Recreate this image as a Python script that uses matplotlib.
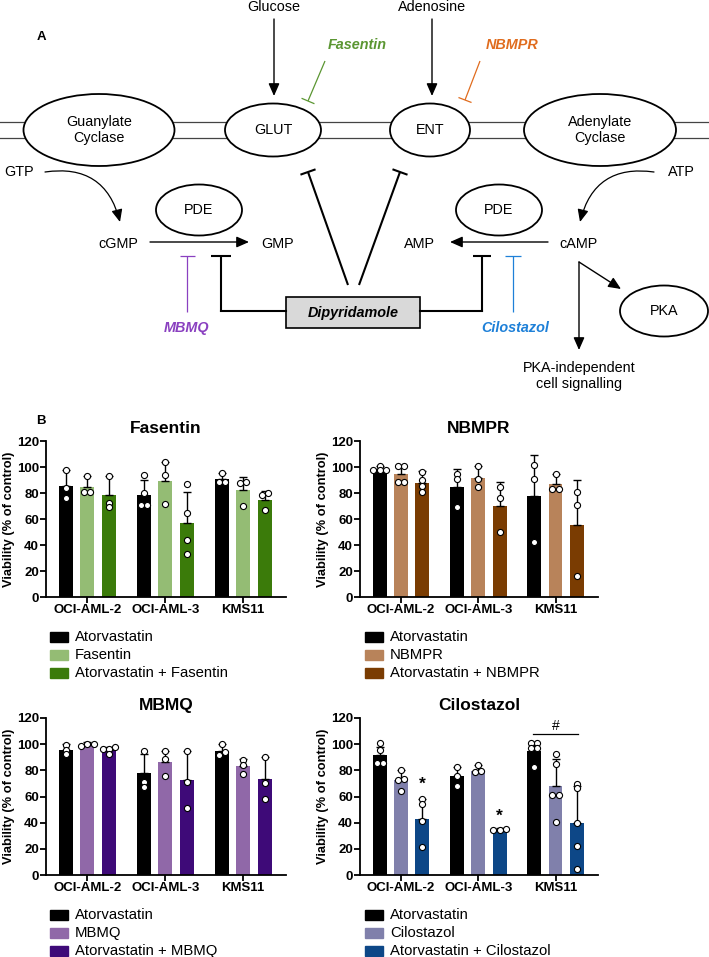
import numpy as np
import matplotlib
matplotlib.use("Agg")
import matplotlib.pyplot as plt
from matplotlib.patches import Ellipse, Rectangle

plt.rcParams['font.family'] = ['Liberation Sans', 'DejaVu Sans']

W, H = 709, 957

cell_lines = ["OCI-AML-2", "OCI-AML-3", "KMS11"]

# ---- panel B data: rows = Atorvastatin, drug, combination; columns = cell lines
fas_labels = ["Atorvastatin", "Fasentin", "Atorvastatin + Fasentin"]
fas_means = [[85.3, 78.4, 90.5], [84.3, 89.0, 82.0], [78.4, 56.6, 74.8]]
fas_sd = [[12.4, 11.3, 5.1], [8.7, 15.0, 10.0], [14.6, 23.9, 6.9]]
fas_points = [
    [[97.7, 83.5, 76.0], [94.0, 79.7, 70.4, 70.4], [95.6, 88.4, 88.4]],
    [[93.0, 80.5, 80.5], [104.0, 94.0, 71.5], [88.4, 87.4, 70.0]],
    [[93.0, 72.5, 69.0], [86.6, 64.3, 44.2, 33.0], [80.0, 78.7, 67.0]],
]

nbm_labels = ["Atorvastatin", "NBMPR", "Atorvastatin + NBMPR"]
nbm_means = [[98.2, 84.3, 77.6], [94.3, 91.3, 86.6], [88.0, 70.0, 55.3]]
nbm_sd = [[2.6, 13.9, 31.9], [7.2, 9.5, 8.3], [9.0, 18.2, 34.7]]
nbm_points = [
    [[100.8, 97.7, 97.7, 97.7], [94.6, 90.7, 69.2], [101.5, 90.5, 42.0]],
    [[100.8, 100.8, 88.2, 88.2], [100.8, 90.7, 84.6], [94.9, 83.3, 83.3]],
    [[96.4, 90.0, 85.6, 80.5], [84.6, 76.3, 50.0], [80.5, 70.4, 16.2]],
]

mbm_labels = ["Atorvastatin", "MBMQ", "Atorvastatin + MBMQ"]
mbm_means = [[95.5, 77.6, 95.0], [99.6, 86.0, 83.2], [95.2, 72.5, 73.0]]
mbm_sd = [[4.5, 15.1, 5.3], [1.8, 9.0, 5.6], [2.6, 22.0, 17.0]]
mbm_points = [
    [[99.6, 95.7, 92.7], [94.5, 71.0, 67.0], [100.3, 93.7, 91.6]],
    [[98.3, 100.0, 100.3], [95.0, 88.8, 75.3], [88.0, 84.2, 77.0]],
    [[97.8, 96.5, 96.5, 92.4], [94.5, 71.0, 51.3], [90.0, 70.2, 58.2]],
]

cil_labels = ["Atorvastatin", "Cilostazol", "Atorvastatin + Cilostazol"]
cil_means = [[91.4, 75.3, 95.0], [72.5, 79.7, 67.9], [42.6, 34.7, 40.1]]
cil_sd = [[6.6, 7.4, 7.0], [7.7, 4.0, 20.7], [15.4, 1.3, 28.1]]
cil_points = [
    [[100.6, 95.7, 85.3, 85.3], [82.7, 75.8, 68.4], [101.0, 100.6, 97.0, 97.0, 82.7]],
    [[80.2, 73.5, 72.5, 64.3], [83.7, 79.7, 79.1], [92.4, 84.8, 61.3, 60.8, 40.3]],
    [[58.0, 54.0, 41.4, 21.2], [34.7, 35.2, 34.2], [69.4, 66.4, 39.6, 22.2, 4.3]],
]
cil_stars = [69, 45]        # y of "*" over combination bars (OCI-AML-2, OCI-AML-3)
cil_hash_y = 107.7          # KMS11 comparison line

fas_colors = ["#000000", "#94bc74", "#3b7b0a"]
nbm_colors = ["#000000", "#b8835a", "#7a3c02"]
mbm_colors = ["#000000", "#9068a8", "#3e0a78"]
cil_colors = ["#000000", "#8080ab", "#0d4787"]


fig = plt.figure(figsize=(W / 100, H / 100), dpi=100)
fig.patch.set_facecolor("white")

# overlay axes in pixel coordinates for the diagram (panel A) and legends
ax0 = fig.add_axes([0, 0, 1, 1])
ax0.set_xlim(0, W)
ax0.set_ylim(H, 0)
ax0.axis("off")

FS = 10.4


def arrow(x0, y0, x1, y1, rad=0.0, lw=1.0):
    ax0.annotate("", xy=(x1, y1), xytext=(x0, y0),
                 arrowprops=dict(arrowstyle="-|>,head_length=0.75,head_width=0.33",
                                 color="black", lw=lw, shrinkA=0, shrinkB=0,
                                 mutation_scale=10,
                                 connectionstyle=f"arc3,rad={rad}"))


def tee(x0, y0, x1, y1, color="black", lw=1.0, half=7):
    ax0.plot([x0, x1], [y0, y1], color=color, lw=lw, solid_capstyle="butt")
    dx, dy = x1 - x0, y1 - y0
    L = np.hypot(dx, dy)
    nx, ny = -dy / L, dx / L
    ax0.plot([x1 - nx * half, x1 + nx * half], [y1 - ny * half, y1 + ny * half],
             color=color, lw=lw, solid_capstyle="butt")


# membrane
for yy in (122, 138):
    ax0.plot([0, W], [yy, yy], color="#444444", lw=0.9, zorder=1)

for (cx, cy, w, h, txt) in [(99, 130, 151, 72, "Guanylate\nCyclase"),
                            (273, 130, 96, 53, "GLUT"),
                            (430, 130, 80, 53, "ENT"),
                            (600, 130, 152, 72, "Adenylate\nCyclase"),
                            (199, 210, 86, 51, "PDE"),
                            (499, 210, 86, 51, "PDE"),
                            (664, 311, 88, 51, "PKA")]:
    ax0.add_patch(Ellipse((cx, cy), w, h, facecolor="white", edgecolor="black",
                          lw=1.3, zorder=2))
    ax0.text(cx, cy, txt, ha="center", va="center", fontsize=FS,
             linespacing=1.15, zorder=3)

ax0.text(41, 37, "A", fontsize=9.5, fontweight="bold", ha="center", va="center")
ax0.text(41, 421, "B", fontsize=9.5, fontweight="bold", ha="center", va="center")

ax0.text(274, 7, "Glucose", ha="center", va="center", fontsize=FS)
ax0.text(432, 7, "Adenosine", ha="center", va="center", fontsize=FS)
arrow(274, 19, 274, 96)
arrow(432, 19, 432, 96)

ax0.text(357, 45, "Fasentin", ha="center", va="center", fontsize=FS,
         fontweight="bold", fontstyle="italic", color="#5b9632")
ax0.text(512, 45, "NBMPR", ha="center", va="center", fontsize=FS,
         fontweight="bold", fontstyle="italic", color="#e06c1e")
tee(325, 61, 308, 101, color="#5b9632", lw=0.9, half=7)
tee(480, 61, 465, 100, color="#e06c1e", lw=0.9, half=7)

ax0.text(19, 172, "GTP", ha="center", va="center", fontsize=FS)
ax0.text(681, 172, "ATP", ha="center", va="center", fontsize=FS)
arrow(45, 172, 120, 222, rad=-0.45, lw=0.9)
arrow(654, 172, 580, 222, rad=0.45, lw=0.9)

ax0.text(118, 244, "cGMP", ha="center", va="center", fontsize=FS)
ax0.text(278, 244, "GMP", ha="center", va="center", fontsize=FS)
ax0.text(419, 244, "AMP", ha="center", va="center", fontsize=FS)
ax0.text(578, 244, "cAMP", ha="center", va="center", fontsize=FS)
arrow(150, 242, 249, 242)
arrow(548, 242, 450, 242)

# Dipyridamole
ax0.add_patch(Rectangle((286, 297), 134, 31, facecolor="#d9d9d9",
                        edgecolor="black", lw=1.2, zorder=2))
ax0.text(353, 313, "Dipyridamole", ha="center", va="center", fontsize=FS,
         fontweight="bold", fontstyle="italic", zorder=3)
tee(348, 285, 308, 172, lw=1.5, half=8)
tee(359, 285, 400, 172, lw=1.5, half=8)
ax0.plot([286, 221], [311, 311], color="black", lw=1.5)
tee(221, 311.7, 221, 256, lw=1.5, half=10)
ax0.plot([420, 482], [311, 311], color="black", lw=1.5)
tee(482, 311.7, 482, 256, lw=1.5, half=9)

tee(187, 312, 187, 256, color="#8a40c0", lw=0.9, half=7.5)
tee(513, 312, 513, 256, color="#1e80d8", lw=0.9, half=8)
ax0.text(187, 328, "MBMQ", ha="center", va="center", fontsize=FS,
         fontweight="bold", fontstyle="italic", color="#8a40c0")
ax0.text(515, 328, "Cilostazol", ha="center", va="center", fontsize=FS,
         fontweight="bold", fontstyle="italic", color="#1e80d8")

# cAMP downstream
arrow(579, 262, 621, 289)
arrow(579, 262, 579, 350)
ax0.text(579, 376, "PKA-independent\ncell signalling", ha="center", va="center",
         fontsize=FS, linespacing=1.2)


# ---- panel B
def swarm(vals, gap=2.5, step=0.08):
    vals = np.asarray(vals)
    order = np.argsort(vals)
    offs = np.zeros(len(vals))
    rows = []
    for k in order:
        if rows and vals[k] - vals[rows[-1][-1]] < gap:
            rows[-1].append(k)
        else:
            rows.append([k])
    for row in rows:
        n = len(row)
        for m, k in enumerate(row):
            offs[k] = (m - (n - 1) / 2) * step
    return offs


def draw_panel(rect, title, means, sds, points, colors, labels, leg_xy):
    left, top, right, bottom = rect
    ax = fig.add_axes([left / W, 1 - bottom / H, (right - left) / W, (bottom - top) / H])
    x = np.arange(len(cell_lines))
    offsets = [-0.276, 0.0, 0.276]
    for i in range(3):
        xs = x + offsets[i]
        ax.bar(xs, means[i], width=0.18, color=colors[i], zorder=2)
        ax.errorbar(xs, means[i], yerr=[np.zeros(3), sds[i]], fmt="none",
                    ecolor="black", elinewidth=1.0, capsize=3.2, capthick=1.0, zorder=3)
        for j in range(3):
            ax.plot(xs[j] + swarm(points[i][j]), points[i][j], "o", mfc="white",
                    mec="black", ms=4.4, mew=0.8, zorder=4, clip_on=False)
    ax.set_xlim(-0.53, 2.55)
    ax.set_ylim(0, 120)
    ax.set_yticks(range(0, 121, 20))
    ax.set_xticks(x)
    ax.set_xticklabels(cell_lines, fontweight="bold", fontsize=9.5)
    for lab in ax.get_yticklabels():
        lab.set_fontweight("bold")
        lab.set_fontsize(9.5)
    for s in ("top", "right"):
        ax.spines[s].set_visible(False)
    for s in ("left", "bottom"):
        ax.spines[s].set_linewidth(1.3)
    ax.tick_params(width=1.3, length=4, pad=1.2)
    ax.set_ylabel("Viability (% of control)", fontweight="bold", fontsize=9.3, labelpad=1)
    ax.set_title(title, fontweight="bold", fontsize=12.5, pad=6)
    ax.set_facecolor("none")

    lx, ly = leg_xy
    for k, (lab, col) in enumerate(zip(labels, colors)):
        yy = ly + k * 18
        ax0.add_patch(Rectangle((lx, yy - 5), 18, 10, color=col))
        ax0.text(lx + 25, yy, lab, va="center", ha="left", fontsize=10.7)
    return ax


draw_panel((46, 441, 286, 597), "Fasentin", fas_means, fas_sd, fas_points,
           fas_colors, fas_labels, (50, 637))
draw_panel((360, 441, 598, 597), "NBMPR", nbm_means, nbm_sd, nbm_points,
           nbm_colors, nbm_labels, (365, 637))
draw_panel((46, 718, 286, 875), "MBMQ", mbm_means, mbm_sd, mbm_points,
           mbm_colors, mbm_labels, (50, 915))
axc = draw_panel((360, 718, 598, 875), "Cilostazol", cil_means, cil_sd, cil_points,
                 cil_colors, cil_labels, (365, 915))

for j, ys in enumerate(cil_stars):
    axc.text(j + 0.276, ys, "*", ha="center", va="center", fontsize=12.5, fontweight="bold")
axc.plot([2 - 0.29, 2 + 0.29], [cil_hash_y, cil_hash_y], color="black", lw=0.9,
         clip_on=False)
axc.text(2, cil_hash_y + 6, "#", ha="center", va="center", fontsize=10)

fig.savefig("out.png", dpi=100)
